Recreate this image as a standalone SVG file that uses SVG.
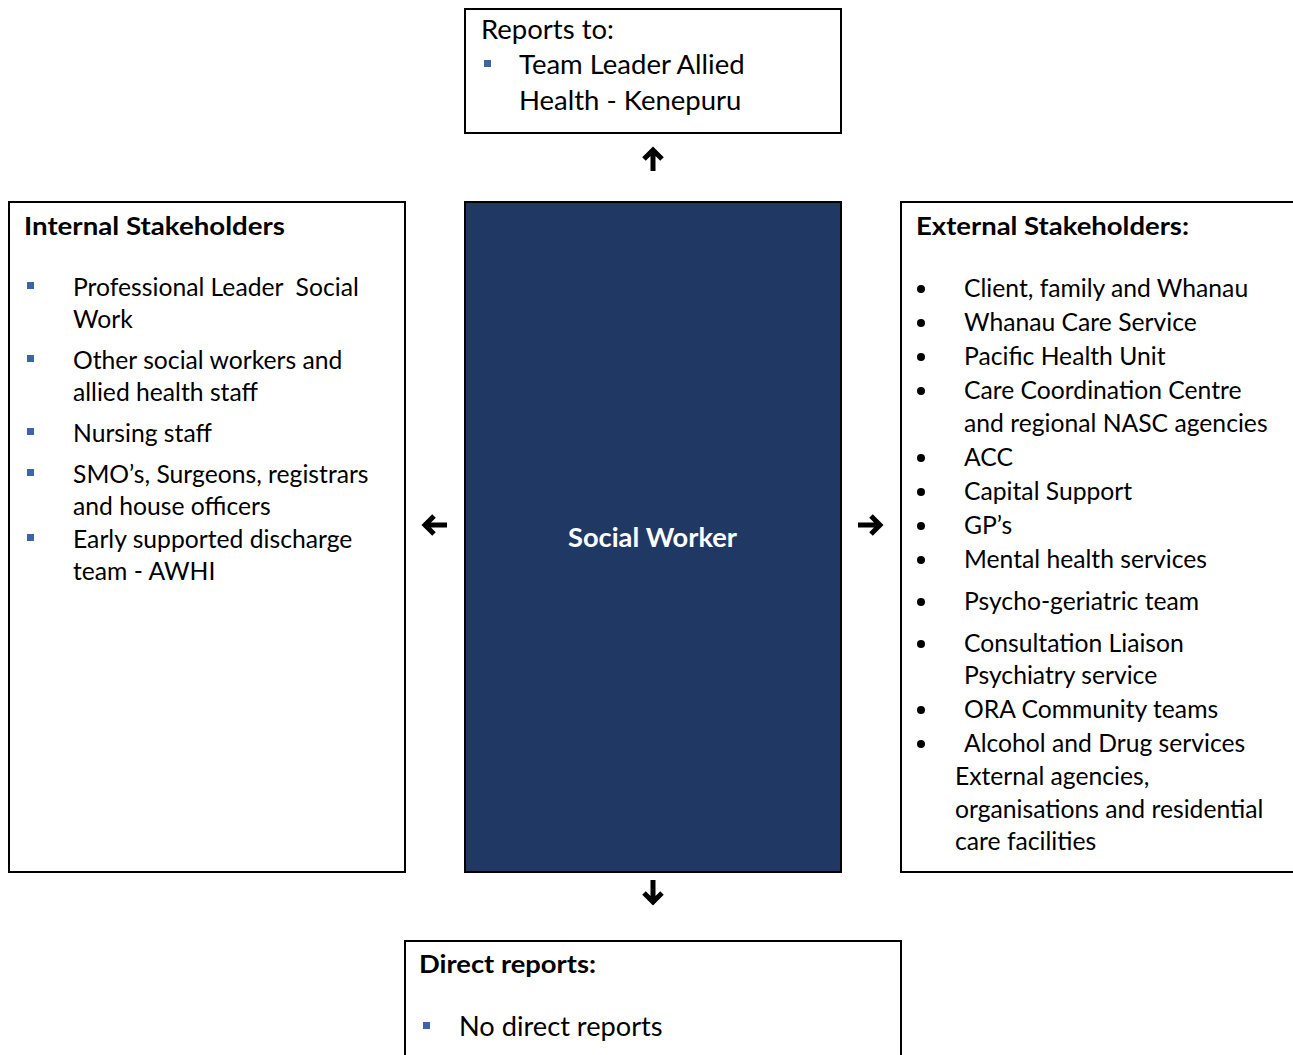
<svg xmlns="http://www.w3.org/2000/svg" width="1293" height="1055" viewBox="0 0 1293 1055">
<style>
text{font-family:Lato,"Open Sans","Liberation Sans",sans-serif;fill:#000;font-size:24.7px}
.b{font-weight:bold;font-size:25px}
.big{font-size:27.5px}
.box{fill:#fff;stroke:#000;stroke-width:2}
.sq{fill:#3F63A8}
.arr{fill:none;stroke:#000;stroke-width:5;stroke-linejoin:miter}
</style>
<rect width="1293" height="1055" fill="#fff"/>
<g id="reports-to">
<rect class="box" x="465" y="9" width="376" height="124"/>
<text class="big" x="481" y="39">Reports to:</text>
<rect class="sq" x="484" y="60" width="7" height="7"/>
<text class="big" x="519" y="74">Team Leader Allied</text>
<text class="big" x="519" y="110">Health - Kenepuru</text>
</g>
<g id="internal">
<rect class="box" x="9" y="202" width="396" height="670"/>
<text class="b" x="24" y="235" textLength="261" lengthAdjust="spacingAndGlyphs">Internal Stakeholders</text>
<rect class="sq" x="27" y="282" width="7" height="7"/>
<text x="73" y="296" xml:space="preserve">Professional Leader  Social</text>
<text x="73" y="328">Work</text>
<rect class="sq" x="27" y="355" width="7" height="7"/>
<text x="73" y="369">Other social workers and</text>
<text x="73" y="401">allied health staff</text>
<rect class="sq" x="27" y="428" width="7" height="7"/>
<text x="73" y="442">Nursing staff</text>
<rect class="sq" x="27" y="469" width="7" height="7"/>
<text x="73" y="483">SMO’s, Surgeons, registrars</text>
<text x="73" y="515">and house officers</text>
<rect class="sq" x="27" y="534" width="7" height="7"/>
<text x="73" y="548">Early supported discharge</text>
<text x="73" y="580">team - AWHI</text>
</g>
<g id="social-worker">
<rect x="465" y="202" width="376" height="670" fill="#203864" stroke="#000" stroke-width="2"/>
<text class="b" x="568" y="547" textLength="169" lengthAdjust="spacingAndGlyphs" style="fill:#fff;font-size:26px">Social Worker</text>
</g>
<g id="external">
<rect class="box" x="901" y="202" width="400" height="670"/>
<text class="b" x="916" y="235" textLength="273" lengthAdjust="spacingAndGlyphs">External Stakeholders:</text>
<g fill="#000">
<circle cx="921" cy="289" r="4"/>
<circle cx="921" cy="323" r="4"/>
<circle cx="921" cy="357" r="4"/>
<circle cx="921" cy="391" r="4"/>
<circle cx="921" cy="458" r="4"/>
<circle cx="921" cy="492" r="4"/>
<circle cx="921" cy="526" r="4"/>
<circle cx="921" cy="560" r="4"/>
<circle cx="921" cy="602" r="4"/>
<circle cx="921" cy="644" r="4"/>
<circle cx="921" cy="710" r="4"/>
<circle cx="921" cy="744" r="4"/>
</g>
<text x="964" y="297">Client, family and Whanau</text>
<text x="964" y="331">Whanau Care Service</text>
<text x="964" y="365">Pacific Health Unit</text>
<text x="964" y="399">Care Coordination Centre</text>
<text x="964" y="432">and regional NASC agencies</text>
<text x="964" y="466">ACC</text>
<text x="964" y="500">Capital Support</text>
<text x="964" y="534">GP’s</text>
<text x="964" y="568">Mental health services</text>
<text x="964" y="610">Psycho-geriatric team</text>
<text x="964" y="652">Consultation Liaison</text>
<text x="964" y="684">Psychiatry service</text>
<text x="964" y="718">ORA Community teams</text>
<text x="964" y="752">Alcohol and Drug services</text>
<text x="955" y="785">External agencies,</text>
<text x="955" y="818">organisations and residential</text>
<text x="955" y="850">care facilities</text>
</g>
<g id="direct-reports">
<rect class="box" x="405" y="941" width="496" height="130"/>
<text class="b" x="419" y="973" textLength="177" lengthAdjust="spacingAndGlyphs">Direct reports:</text>
<rect class="sq" x="423" y="1022" width="7" height="7"/>
<text x="459" y="1036" style="font-size:27.2px">No direct reports</text>
</g>
<g id="connectors">
<path class="arr" d="M653 171V150M644 159L653 150L662 159"/>
<path class="arr" d="M653 880V902M644 893L653 902L662 893"/>
<path class="arr" d="M447 525H425M434 516L425 525L434 534"/>
<path class="arr" d="M858 525H880M871 516L880 525L871 534"/>
</g>
</svg>
